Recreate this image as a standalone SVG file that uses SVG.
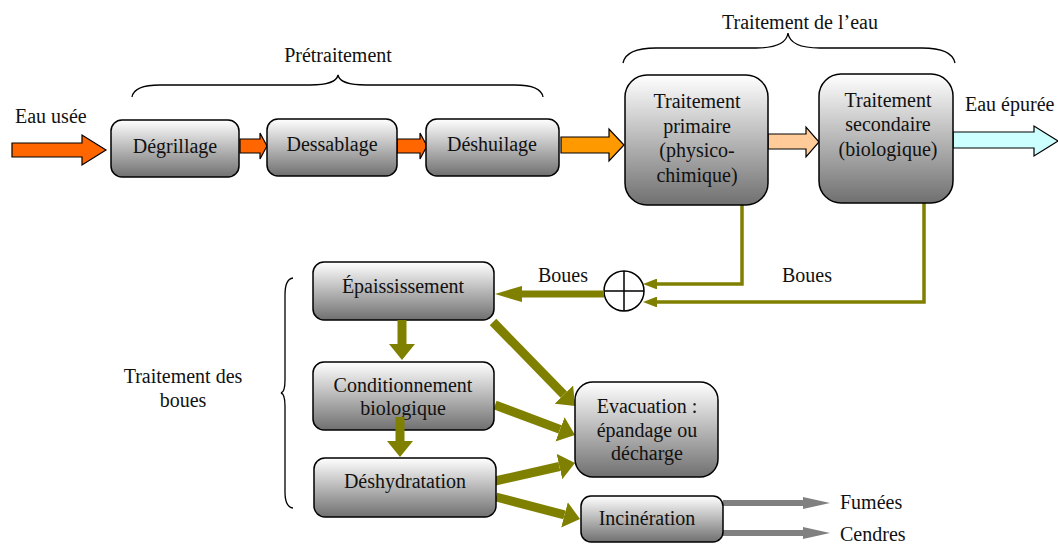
<svg xmlns="http://www.w3.org/2000/svg" width="1058" height="546" viewBox="0 0 1058 546">
<defs>
<linearGradient id="g" x1="0" y1="0" x2="0" y2="1">
<stop offset="0" stop-color="#ffffff"/>
<stop offset="1" stop-color="#707070"/>
</linearGradient>
<marker id="ol" viewBox="0 0 10 10" preserveAspectRatio="none" refX="0" refY="5" markerWidth="4" markerHeight="3.1" orient="auto" markerUnits="strokeWidth">
<path d="M0,0 L10,5 L0,10 z" fill="#808000"/>
</marker>
<marker id="olm" viewBox="0 0 10 10" preserveAspectRatio="none" refX="0" refY="5" markerWidth="3.86" markerHeight="2.3" orient="auto" markerUnits="strokeWidth">
<path d="M0,0 L10,5 L0,10 z" fill="#808000"/>
</marker>
<marker id="olt" viewBox="0 0 10 10" preserveAspectRatio="none" refX="0" refY="5" markerWidth="1.78" markerHeight="2.9" orient="auto" markerUnits="strokeWidth">
<path d="M0,0 L10,5 L0,10 z" fill="#808000"/>
</marker>
<marker id="gr" viewBox="0 0 10 10" preserveAspectRatio="none" refX="0" refY="5" markerWidth="4.5" markerHeight="2" orient="auto" markerUnits="strokeWidth">
<path d="M0,0 L10,5 L0,10 z" fill="#808080"/>
</marker>
</defs>
<style>
text{font-family:'Liberation Serif','DejaVu Serif',serif;font-size:20px;fill:#111}
.m{text-anchor:middle}
.box{fill:url(#g);stroke:#000;stroke-width:1.5}
.brace{fill:none;stroke:#000;stroke-width:1.3}
.ba{stroke:#000;stroke-width:1.2}
.o{fill:none;stroke:#808000;stroke-width:3.5}
.om{fill:none;stroke:#808000;stroke-width:7}
.ot{fill:none;stroke:#808000;stroke-width:9}
.gl{fill:none;stroke:#808080;stroke-width:6}
</style>

<g id="labels" font-family="Liberation Serif, DejaVu Serif, serif">
<text x="15" y="123">Eau usée</text>
<text class="m" x="338" y="62">Prétraitement</text>
<path class="brace" d="M132,97 Q134,85 160,85 L310,85 Q336,85 338,75 Q340,85 366,85 L515,85 Q541,85 543,97"/>
<text class="m" x="800" y="29">Traitement de l’eau</text>
<path class="brace" d="M623,63 Q626,48 656,48 L756,48 Q786,48 788,33 Q790,48 820,48 L922,48 Q952,48 955,63"/>
<text x="965" y="111">Eau épurée</text>
<text x="538" y="282">Boues</text>
<text x="782" y="282">Boues</text>
<text class="m" x="183" y="383">Traitement des</text>
<text class="m" x="183" y="407">boues</text>
<path class="brace" d="M293,278 Q285,279 285,295 L285,380 Q285,392 281,393 Q285,394 285,406 L285,492 Q285,507 293,508"/>
<text x="840" y="509">Fumées</text>
<text x="840" y="541">Cendres</text>
</g>

<g id="connectors">
<path class="ba" fill="#ff6600" d="M12,143 L82,143 L82,135 L106,150 L82,165 L82,157 L12,157 z"/>
<path class="ba" fill="#ff6600" d="M240,139 L260,139 L260,133 L267,146 L260,159 L260,153 L240,153 z"/>
<path class="ba" fill="#ff6600" d="M397,139 L420,139 L420,133 L427,146 L420,159 L420,153 L397,153 z"/>
<path class="ba" fill="#ff9900" d="M561,137 L609,137 L609,129 L624,145 L609,161 L609,153 L561,153 z"/>
<path class="ba" fill="#ffcc99" d="M768,134 L806,134 L806,127 L819,142 L806,157 L806,149 L768,149 z"/>
<path class="ba" fill="#ccffff" d="M953,132 L1034,132 L1034,126 L1058,141 L1034,156 L1034,148 L953,148 z"/>
<path class="o" marker-end="url(#ol)" d="M742,205 L742,284 L657,284"/>
<path class="o" marker-end="url(#ol)" d="M924,203 L924,302 L657,302"/>
<circle cx="624" cy="291" r="20" fill="#fff" stroke="#000" stroke-width="1.5"/>
<path d="M604,291 L644,291 M624,271 L624,311" stroke="#000" stroke-width="1.5"/>
<path class="om" marker-end="url(#olm)" d="M604,294 L522,294"/>
<path class="ot" marker-end="url(#olt)" d="M493,322 L563.8,394.6"/>
<path class="ot" marker-end="url(#olt)" d="M495,405 L560,429.4"/>
<path class="ot" marker-end="url(#olt)" d="M495,481 L559.4,466.5"/>
<path class="ot" marker-end="url(#olt)" d="M496,497 L564.5,514.9"/>
<path class="gl" marker-end="url(#gr)" d="M723,503 L803,503"/>
<path class="gl" marker-end="url(#gr)" d="M723,533 L803,533"/>
</g>

<g id="n-degrillage"><rect class="box" x="111" y="120" width="128" height="57" rx="11"/><text class="m" x="175" y="153">Dégrillage</text></g>
<g id="n-dessablage"><rect class="box" x="267" y="119" width="130" height="57" rx="11"/><text class="m" x="332" y="151">Dessablage</text></g>
<g id="n-deshuilage"><rect class="box" x="426" y="119" width="133" height="57" rx="11"/><text class="m" x="492" y="151">Déshuilage</text></g>
<g id="n-primaire"><rect class="box" x="625" y="75" width="143" height="130" rx="22"/>
<text class="m" x="697" y="108">Traitement</text><text class="m" x="697" y="133">primaire</text><text class="m" x="697" y="157">(physico-</text><text class="m" x="697" y="182">chimique)</text></g>
<g id="n-secondaire"><rect class="box" x="819" y="74" width="134" height="129" rx="22"/>
<text class="m" x="888" y="107">Traitement</text><text class="m" x="888" y="131">secondaire</text><text class="m" x="888" y="156">(biologique)</text></g>
<g id="n-epaississement"><rect class="box" x="313" y="262" width="181" height="58" rx="11"/><text class="m" x="403" y="293">Épaississement</text></g>
<g id="n-conditionnement"><rect class="box" x="313" y="362" width="181" height="68" rx="11"/><text class="m" x="403" y="392">Conditionnement</text><text class="m" x="403" y="415">biologique</text></g>
<g id="n-deshydratation"><rect class="box" x="314" y="458" width="182" height="59" rx="11"/><text class="m" x="405" y="488">Déshydratation</text></g>
<g id="n-evacuation"><rect class="box" x="575" y="382" width="143" height="95" rx="18"/>
<text class="m" x="647" y="413">Evacuation :</text><text class="m" x="647" y="437">épandage ou</text><text class="m" x="647" y="460">décharge</text></g>
<g id="n-incineration"><rect class="box" x="581" y="496" width="142" height="46" rx="10"/><text class="m" x="647" y="525">Incinération</text></g>
<g id="vertical-arrows">
<path class="ot" marker-end="url(#olt)" d="M402,320 L402,344"/>
<path class="ot" marker-end="url(#olt)" d="M400,417 L400,441"/>
</g>
</svg>
